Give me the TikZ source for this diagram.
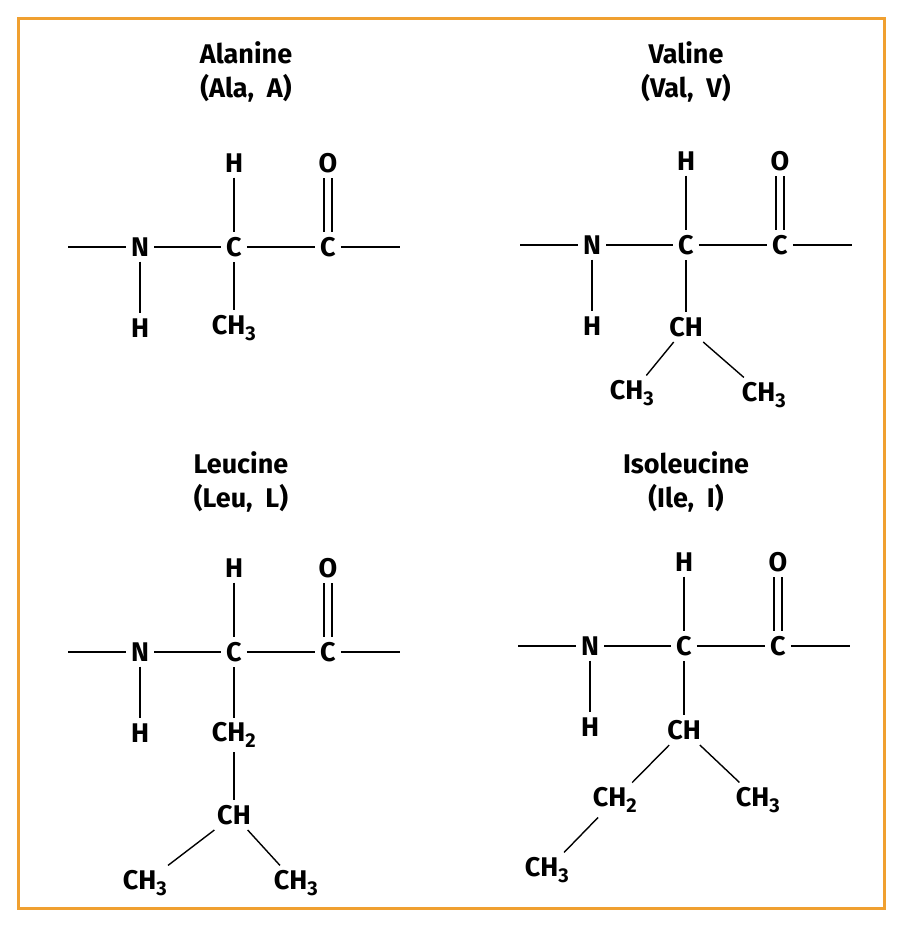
\documentclass[tikz,border=0pt]{standalone}
\usepackage{fontspec}
\setmainfont{Fira Sans}
\begin{document}
\begin{tikzpicture}[x=1pt,y=-1pt,
  atom/.style={inner sep=5pt,font=\bfseries\fontsize{27}{30}\selectfont},
  ttl/.style={font=\bfseries\fontsize{27}{34}\selectfont,align=center},
  bond/.style={line width=1.4pt,black}]
\useasboundingbox (0,0) rectangle (906,930);
\draw[line width=3pt,color={rgb,255:red,240;green,160;blue,48}] (18,18) rectangle (884,908);
\newcommand{\bb}[1]{%
  \node[atom] (#1N) at (-94,0) {N};
  \node[atom] (#1C) at (0,0) {C};
  \node[atom] (#1K) at (94,0) {C};
  \node[atom] (#1H) at (0,-84) {H};
  \node[atom] (#1O) at (94,-84) {O};
  \node[atom] (#1HN) at (-94,81) {H};
  \coordinate (#1L) at (-166,0);
  \coordinate (#1R) at (166,0);
  \draw[bond] (#1L) -- (#1N); \draw[bond] (#1N) -- (#1C); \draw[bond] (#1C) -- (#1K); \draw[bond] (#1K) -- (#1R);
  \draw[bond] (#1H) -- (#1C); \draw[bond] (#1N) -- (#1HN);
  \draw[bond] ([xshift=-4pt]#1O.south) -- ([xshift=-4pt]#1K.north);
  \draw[bond] ([xshift=4pt]#1O.south) -- ([xshift=4pt]#1K.north);
}
\newcommand{\sbs}[1]{\textsubscript{\fontsize{20}{20}\selectfont #1}}
\node[ttl] (t1) at (246,72) {Alanine\\(Ala,\ \ A)};
\node[ttl] (t2) at (686,72) {Valine\\(Val,\ \ V)};
\node[ttl] (t3) at (241,482) {Leucine\\(Leu,\ \ L)};
\node[ttl] (t4) at (686,482) {Isoleucine\\(Ile,\ \ I)};
\begin{scope}[shift={(234,247)}]
  \bb{a}
  \node[atom] (aS) at (0,81) {CH\sbs{3}};
  \draw[bond] (aC) -- (aS);
\end{scope}
\begin{scope}[shift={(686,245)}]
  \bb{v}
  \node[atom] (vS) at (0,82) {CH};
  \node[atom] (vM1) at (-54,148) {CH\sbs{3}};
  \node[atom] (vM2) at (78,150) {CH\sbs{3}};
  \draw[bond] (vC) -- (vS); \draw[bond] (vS) -- (vM1); \draw[bond] (vS) -- (vM2);
\end{scope}
\begin{scope}[shift={(234,652)}]
  \bb{l}
  \node[atom] (lS) at (0,83) {CH\sbs{2}};
  \node[atom] (lG) at (0,163) {CH};
  \node[atom] (lM1) at (-89,231) {CH\sbs{3}};
  \node[atom] (lM2) at (62,231) {CH\sbs{3}};
  \draw[bond] (lC) -- (lS); \draw[bond] (lS) -- (lG);
  \draw[bond] (lG) -- (lM1); \draw[bond] (lG) -- (lM2);
\end{scope}
\begin{scope}[shift={(684,646)}]
  \bb{i}
  \node[atom] (iS) at (0,84) {CH};
  \node[atom] (iG) at (-69,154) {CH\sbs{2}};
  \node[atom] (iM) at (74,154) {CH\sbs{3}};
  \node[atom] (iD) at (-137,224) {CH\sbs{3}};
  \draw[bond] (iC) -- (iS); \draw[bond] (iS) -- (iG); \draw[bond] (iS) -- (iM);
  \draw[bond] (iG) -- (iD);
\end{scope}
\end{tikzpicture}
\end{document}
